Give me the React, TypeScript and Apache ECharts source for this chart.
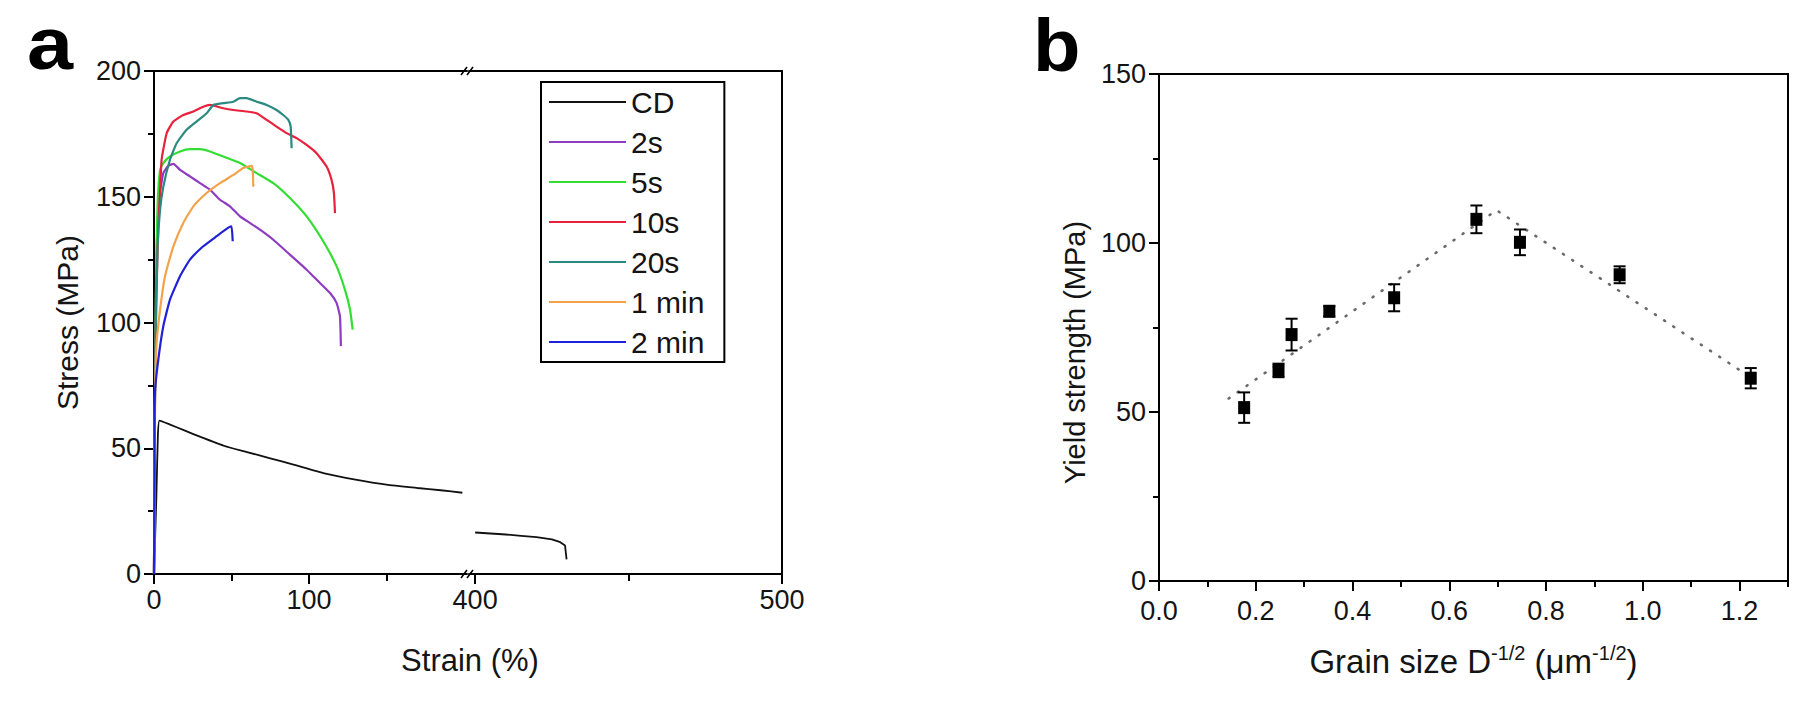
import React, { useEffect, useRef } from 'react';
import * as echarts from 'echarts';

const FONT = "'Liberation Sans', Arial, Helvetica, sans-serif";
const INK = '#141414';

// ---------- Panel a : stress-strain curves ----------
const curveNames = ['CD', '2s', '5s', '10s', '20s', '1 min', '2 min'];
const curveColors = ['#111111', '#8e3cc0', '#33dd33', '#e8213c', '#2a8a80', '#f4a24a', '#2020d8'];

// CD sample, left part of the broken axis (0-200 %)
const cdLeft = [
  [0, 0], [1.5, 30], [2.5, 55], [3.5, 61], [10, 59.5], [20, 57], [30, 54.5], [45, 51], [60, 48.5],
  [75, 46], [90, 43.5], [110, 40], [130, 37.5], [150, 35.5], [170, 34.2], [185, 33.3], [199, 32.3],
];
// CD sample, right part of the broken axis (400-500 %)
const cdRight = [
  [400, 16.5], [405, 16.1], [410, 15.7], [415, 15.2], [420, 14.7], [425, 13.8], [427.5, 12.8],
  [429.3, 11.3], [429.6, 8], [429.8, 5.8],
];
const s2 = [
  [0, 0], [0.4, 50], [1, 100], [2, 135], [3.5, 150], [6, 159.4], [9.2, 162.3], [12.5, 163.1], [16.8, 160.7],
  [23.2, 158.1], [29.7, 155.4], [36.1, 152.8], [42.6, 148.8], [49, 146.2], [55.5, 142.2], [61.9, 139.6],
  [68.4, 136.9], [77, 132.9], [87.7, 127], [98.5, 121], [107.1, 115.7], [113.5, 111.8], [117.8, 107.8],
  [120, 102.5], [120.6, 90.6],
];
const s5 = [
  [0, 0], [0.5, 60], [1.2, 110], [2.2, 145], [3.9, 160.7], [6, 163.4], [10.3, 166], [16.8, 168], [23.2, 168.9],
  [29.7, 168.9], [36.1, 168], [44.7, 166], [55.5, 163.4], [66.2, 159.4], [77, 155.4], [87.7, 149.5],
  [98.5, 142.2], [109.2, 132.3], [117.8, 122.4], [123.2, 113.1], [126.5, 105.2], [128.2, 97.2],
];
const s10 = [
  [0, 0], [0.6, 70], [1.5, 110], [2.8, 138], [3.9, 151.5], [4.9, 164.7], [8.2, 175.3], [12.5, 179.9],
  [18.9, 182.5], [25.4, 183.9], [31.8, 185.8], [36.1, 186.5], [44.7, 185.2], [51.2, 184.5], [59.8, 183.9],
  [66.2, 183.2], [72.7, 180.6], [79.1, 177.9], [85.6, 175.3], [92, 173.3], [98.5, 170.6], [104.9, 167.3],
  [111.4, 162], [114.6, 156.7], [116.1, 151.5], [116.8, 143.5],
];
const s20 = [
  [0, 0], [0.5, 60], [1.2, 100], [2.3, 130], [3.9, 144.8], [6, 154], [10.3, 164.7], [14.6, 171.3], [21, 176.6],
  [27.5, 179.9], [34, 183.2], [38.3, 186.5], [44.7, 187.2], [51.2, 187.8], [55.5, 189.2], [59.8, 189.2],
  [66.2, 187.8], [72.7, 186.5], [79.1, 184.5], [83.4, 182.5], [86.7, 180.6], [88.2, 177.9], [88.8, 169.3],
];
const s1min = [
  [0, 0], [0.3, 40], [0.8, 75], [1.7, 92], [3.9, 105], [7.1, 118.4], [12.5, 130.3], [18.9, 139.6],
  [25.4, 146.2], [34, 151.5], [42.6, 155.4], [51.2, 158.7], [57.6, 161.4], [63, 162.3], [63.7, 160.7], [64.1, 154],
];
const s2min = [
  [0, 0], [0.3, 40], [0.6, 72], [2.8, 85.3], [6, 98.5], [10.3, 109.1], [16.8, 118.4], [23.2, 125],
  [31.8, 130.3], [40.4, 134.3], [47.7, 137.6], [50, 138.2], [50.8, 132.3],
];
const curvesLeft = [cdLeft, s2, s5, s10, s20, s1min, s2min];

const aStressTicks = { min: 0, max: 200, interval: 50 };
const aLeftMajor = [0, 100];
const aLeftMinor = [50, 150];
const aRightMajor = [400, 500];
const aRightMinor = [450];

// ---------- Panel b : Hall-Petch plot ----------
const grainX = [0.176, 0.247, 0.274, 0.352, 0.486, 0.656, 0.746, 0.952, 1.223];
const yieldY = [51.3, 62.3, 72.9, 79.8, 83.8, 107.0, 100.2, 90.6, 60.0];
const yieldErr = [4.5, 2.0, 4.7, 1.5, 4.0, 4.1, 3.8, 2.5, 3.0];
const fitX = [0.144, 0.6975, 1.215];
const fitY = [54, 109.7, 61];
const bMajor = [0, 0.2, 0.4, 0.6, 0.8, 1.0, 1.2];
const bMinor = [0.1, 0.3, 0.5, 0.7, 0.9, 1.1, 1.3];

const lineStyle = { color: '#000', width: 2 };
const labelStyle = { fontFamily: FONT, fontSize: 27, color: INK };

function frameAxis(gridIndex: number, min: number, max: number, position: string) {
  return {
    type: 'value', gridIndex, min, max, position,
    axisLine: { show: true, onZero: false, lineStyle },
    axisTick: { show: false }, axisLabel: { show: false }, splitLine: { show: false },
  };
}
function tickAxis(gridIndex: number, min: number, max: number, position: string, ticks: number[], length: number) {
  return {
    type: 'value', gridIndex, min, max, position,
    axisLine: { show: false, onZero: false },
    axisTick: { show: true, customValues: ticks, length, lineStyle },
    axisLabel: { show: false }, splitLine: { show: false },
  };
}

function buildOption() {
  const series: any[] = [];
  curvesLeft.forEach((d, i) => {
    series.push({
      name: curveNames[i], type: 'line', xAxisIndex: 0, yAxisIndex: 0, data: d,
      showSymbol: false, smooth: 0.15, color: curveColors[i],
      lineStyle: { width: i === 0 ? 1.8 : 2.2, color: curveColors[i] }, z: 3,
    });
  });
  series.push({
    name: 'CD', type: 'line', xAxisIndex: 3, yAxisIndex: 1, data: cdRight, showSymbol: false,
    color: curveColors[0], lineStyle: { width: 1.8, color: curveColors[0] }, z: 3,
  });

  // panel b
  series.push({
    type: 'line', xAxisIndex: 6, yAxisIndex: 2, data: fitX.map((x, i) => [x, fitY[i]]),
    showSymbol: false, silent: true,
    lineStyle: { color: '#6a6a6a', width: 2.6, type: [1, 10], cap: 'round' }, z: 2,
  });
  series.push({
    type: 'custom', xAxisIndex: 6, yAxisIndex: 2,
    data: grainX.map((x, i) => [x, yieldY[i] - yieldErr[i], yieldY[i] + yieldErr[i]]),
    encode: { x: 0, y: [1, 2] },
    renderItem: (_p: any, api: any) => {
      const x = api.value(0);
      const lo = api.coord([x, api.value(1)]);
      const hi = api.coord([x, api.value(2)]);
      const h = 6;
      const st = { stroke: '#000', lineWidth: 2 };
      return {
        type: 'group',
        children: [
          { type: 'line', shape: { x1: lo[0], y1: lo[1], x2: hi[0], y2: hi[1] }, style: st },
          { type: 'line', shape: { x1: lo[0] - h, y1: lo[1], x2: lo[0] + h, y2: lo[1] }, style: st },
          { type: 'line', shape: { x1: hi[0] - h, y1: hi[1], x2: hi[0] + h, y2: hi[1] }, style: st },
        ],
      };
    },
    z: 4,
  });
  series.push({
    type: 'scatter', xAxisIndex: 6, yAxisIndex: 2, data: grainX.map((x, i) => [x, yieldY[i]]),
    symbol: 'rect', symbolSize: [12, 13], itemStyle: { color: '#000', opacity: 1 }, z: 5,
  });

  const breakMark = (x: number, y: number) => ({
    type: 'group', z: 100,
    children: [
      { type: 'rect', shape: { x: x - 4, y: y - 3, width: 8, height: 6 }, style: { fill: '#fff' } },
      { type: 'line', shape: { x1: x - 7, y1: y + 4, x2: x - 1, y2: y - 4 }, style: { stroke: '#000', lineWidth: 1.6 } },
      { type: 'line', shape: { x1: x - 1, y1: y + 4, x2: x + 5, y2: y - 4 }, style: { stroke: '#000', lineWidth: 1.6 } },
    ],
  });

  const panelLetter = (t: string, x: number, y: number, sx: number) => ({
    type: 'text', x, y, scaleX: sx, z: 100,
    style: {
      text: t, fontFamily: FONT, fontWeight: 'bold', fontSize: 74, lineHeight: 56,
      fill: '#000', verticalAlign: 'middle',
    },
  });

  return {
    animation: false,
    backgroundColor: '#fff',
    grid: [
      { left: 154, top: 71, width: 313, height: 503 },
      { left: 469, top: 71, width: 313, height: 503 },
      { left: 1159, top: 74, width: 629, height: 507, show: true, borderColor: '#000', borderWidth: 2 },
    ],
    xAxis: [
      {
        type: 'value', gridIndex: 0, min: 0, max: 202, position: 'bottom',
        axisLine: { show: true, onZero: false, lineStyle },
        axisTick: { show: true, customValues: aLeftMajor, length: 10, lineStyle },
        axisLabel: { ...labelStyle, customValues: aLeftMajor, margin: 12 },
        splitLine: { show: false },
      },
      tickAxis(0, 0, 202, 'bottom', aLeftMinor, 7),
      frameAxis(0, 0, 202, 'top'),
      {
        type: 'value', gridIndex: 1, min: 398, max: 500, position: 'bottom',
        axisLine: { show: true, onZero: false, lineStyle },
        axisTick: { show: true, customValues: aRightMajor, length: 10, lineStyle },
        axisLabel: { ...labelStyle, customValues: aRightMajor, margin: 12 },
        splitLine: { show: false },
      },
      tickAxis(1, 398, 500, 'bottom', aRightMinor, 7),
      frameAxis(1, 398, 500, 'top'),
      {
        type: 'value', gridIndex: 2, min: 0, max: 1.3, position: 'bottom',
        axisLine: { show: true, onZero: false, lineStyle },
        axisTick: { show: true, customValues: bMajor, length: 10, lineStyle },
        axisLabel: { ...labelStyle, customValues: bMajor, margin: 16, formatter: (v: number) => v.toFixed(1) },
        splitLine: { show: false },
        name: '{m|Grain size D}{s|-1/2}{m| (\u03bcm}{s|-1/2}{m|)}',
        nameLocation: 'middle', nameGap: 62,
        nameTextStyle: {
          rich: {
            m: { fontFamily: FONT, fontSize: 33, color: INK, lineHeight: 36 },
            s: { fontFamily: FONT, fontSize: 20, color: INK, lineHeight: 36, verticalAlign: 'top', padding: [0, 0, 13, 0] },
          },
        },
      },
      tickAxis(2, 0, 1.3, 'bottom', bMinor, 6),
    ],
    yAxis: [
      {
        type: 'value', gridIndex: 0, ...aStressTicks, position: 'left',
        axisLine: { show: true, onZero: false, lineStyle },
        axisTick: { show: true, length: 10, lineStyle },
        minorTick: { show: true, splitNumber: 2, length: 6, lineStyle },
        axisLabel: { ...labelStyle, margin: 13 },
        splitLine: { show: false }, minorSplitLine: { show: false },
        name: 'Stress (MPa)', nameLocation: 'middle', nameGap: 72,
        nameTextStyle: { fontFamily: FONT, fontSize: 30, color: INK },
      },
      frameAxis(1, 0, 200, 'right'),
      {
        type: 'value', gridIndex: 2, min: 0, max: 150, interval: 50, position: 'left',
        axisLine: { show: true, onZero: false, lineStyle },
        axisTick: { show: true, length: 10, lineStyle },
        minorTick: { show: true, splitNumber: 2, length: 6, lineStyle },
        axisLabel: { ...labelStyle, margin: 13 },
        splitLine: { show: false }, minorSplitLine: { show: false },
        name: 'Yield strength (MPa)', nameLocation: 'middle', nameGap: 70,
        nameTextStyle: { fontFamily: FONT, fontSize: 29, color: INK, padding: [0, 50, 0, 0] },
      },
    ],
    legend: {
      data: curveNames, orient: 'vertical', left: 541, top: 82,
      icon: 'rect', itemWidth: 77, itemHeight: 2, itemGap: 10,
      padding: [5, 20, 5, 8], borderColor: '#000', borderWidth: 2,
      selectedMode: false,
      textStyle: { fontFamily: FONT, fontSize: 30, color: INK, lineHeight: 30 },
    },
    graphic: [
      panelLetter('a', 27, 44, 1.12),
      panelLetter('b', 1033, 45, 1.05),
      { type: 'text', x: 470, y: 660, z: 100, style: { text: 'Strain (%)', fontFamily: FONT, fontSize: 31, fill: INK, align: 'center', verticalAlign: 'middle' } },
      breakMark(468, 71),
      breakMark(468, 574),
    ],
    series,
  };
}

export default function App() {
  const ref = useRef<HTMLDivElement>(null);
  useEffect(() => {
    const chart = echarts.init(ref.current!, null, { renderer: 'svg' });
    chart.setOption(buildOption() as any);
    return () => chart.dispose();
  }, []);
  return (
    <div
      ref={ref}
      style={{ position: 'fixed', left: 0, top: 0, width: 1800, height: 701, background: '#fff' }}
    />
  );
}
